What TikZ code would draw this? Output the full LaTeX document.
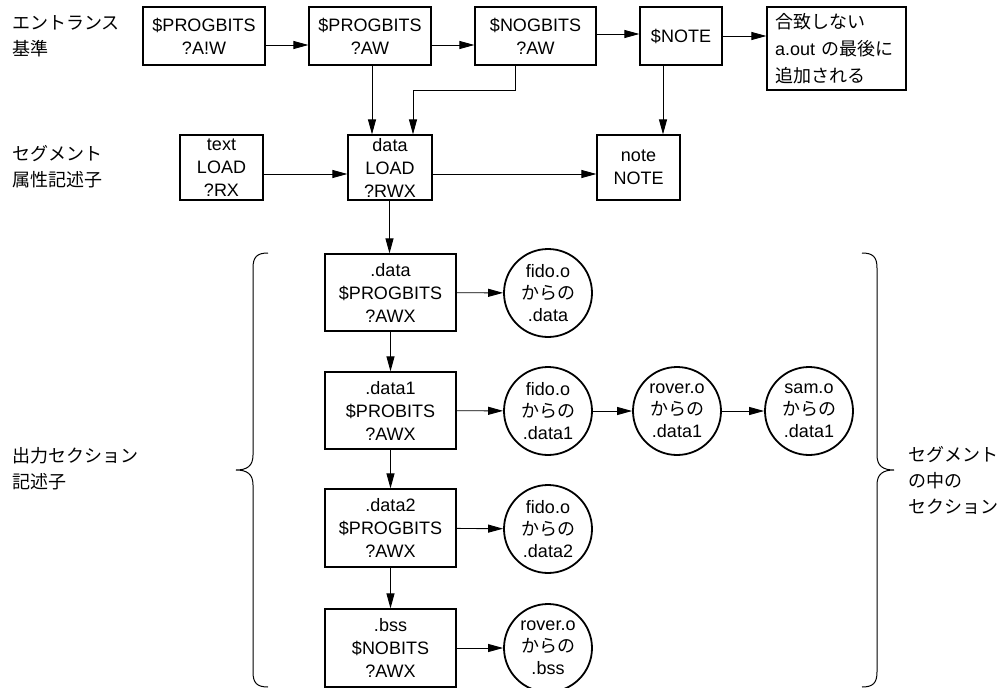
\documentclass[tikz,border=0pt]{standalone}
\usepackage{fontspec}
\setmainfont{Liberation Sans}
\newfontfamily\jpfont{Noto Sans CJK JP}
\newcommand\JP[1]{{\jpfont #1}}
\usetikzlibrary{arrows.meta}
\begin{document}
\begin{tikzpicture}[x=1pt,y=-1pt,
  box/.style={draw, line width=1.2pt, align=center, inner sep=0pt, font=\fontsize{18}{23}\selectfont},
  circ/.style={draw, circle, line width=1.8pt, minimum size=88pt, inner sep=0pt, align=center, font=\fontsize{18}{22}\selectfont},
  lab/.style={anchor=west, align=left, inner sep=0pt, font=\fontsize{18}{26}\selectfont\jpfont},
  arr/.style={-{Triangle[length=15pt,width=8pt]}, line width=0.9pt}]
\useasboundingbox (0,0) rectangle (1005,688);
% labels
\node[lab] (l1) at (12,36) {エントランス\\基準};
\node[lab] (l2) at (12,166.5) {セグメント\\属性記述子};
\node[lab] (l3) at (12,468.5) {出力セクション\\記述子};
\node[lab] (l4) at (908,480) {セグメント\\の中の\\セクション};
% top row
\node[box, minimum width=122, minimum height=58] (b1) at (204,36) {\$PROGBITS\\?A!W};
\node[box, minimum width=122, minimum height=58] (b2) at (370,36) {\$PROGBITS\\?AW};
\node[box, minimum width=121, minimum height=58] (b3) at (535.5,36) {\$NOGBITS\\?AW};
\node[box, minimum width=82, minimum height=58] (b4) at (681,36) {\$NOTE};
\node[box, minimum width=139, minimum height=83, align=left, text width=123, inner xsep=8pt, font=\fontsize{18}{27}\selectfont] (b5) at (836.5,48.5) {\JP{合致しない}\\a.out \JP{の最後に}\\\JP{追加される}};
% second row
\node[box, minimum width=83, minimum height=65] (t) at (221.5,167.5) {text\\LOAD\\?RX};
\node[box, minimum width=84, minimum height=65] (d) at (390,167.5) {data\\LOAD\\?RWX};
\node[box, minimum width=83, minimum height=65] (n) at (638.5,167.5) {note\\NOTE};
% column
\node[box, minimum width=131, minimum height=77] (s1) at (390.5,292.5) {.data\\\$PROGBITS\\?AWX};
\node[box, minimum width=131, minimum height=77] (s2) at (390.5,410.5) {.data1\\\$PROBITS\\?AWX};
\node[box, minimum width=131, minimum height=78] (s3) at (390.5,528) {.data2\\\$PROGBITS\\?AWX};
\node[box, minimum width=131, minimum height=78] (s4) at (390.5,648) {.bss\\\$NOBITS\\?AWX};
% circles
\node[circ] (c1) at (548,293) {fido.o\\\JP{からの}\\.data};
\node[circ] (c2) at (548,411) {fido.o\\\JP{からの}\\.data1};
\node[circ] (c3) at (677,411) {rover.o\\\JP{からの}\\.data1};
\node[circ] (c4) at (809,411) {sam.o\\\JP{からの}\\.data1};
\node[circ] (c5) at (548,529) {fido.o\\\JP{からの}\\.data2};
\node[circ] (c6) at (548,648) {rover.o\\\JP{からの}\\.bss};
% arrows top
\draw[arr] ([yshift=-9pt]b1.east) -- ([yshift=-9pt]b2.west);
\draw[arr] ([yshift=-9pt]b2.east) -- ([yshift=-9pt]b3.west);
\draw[arr] ([yshift=2pt]b3.east) -- ([yshift=2pt]b4.west);
\draw[arr] (b4.east) -- (b4.east -| b5.west);
\draw[arr] ([xshift=2pt]b2.south) -- ([xshift=2pt]b2.south |- d.north);
\draw[arr] ([xshift=-20pt]b3.south) -- ++(0,25) -| ([xshift=23pt]d.north);
\draw[arr] ([xshift=-18pt]b4.south) -- ([xshift=-18pt]b4.south |- n.north);
\draw[arr] ([yshift=-6.5pt]t.east) -- ([yshift=-6.5pt]d.west);
\draw[arr] ([yshift=-6.5pt]d.east) -- ([yshift=-6.5pt]n.west);
\draw[arr] ([xshift=-0.5pt]d.south) -- ([xshift=-0.5pt]d.south |- s1.north);
% column arrows
\draw[arr] (s1) -- (s2);
\draw[arr] (s2) -- (s3);
\draw[arr] (s3) -- (s4);
\draw[arr] (s1) -- (c1);
\draw[arr] (s2) -- (c2);
\draw[arr] (c2) -- (c3);
\draw[arr] (c3) -- (c4);
\draw[arr] (s3) -- (c5);
\draw[arr] (s4) -- (c6);
% braces
\draw[line width=1pt] (268,253) .. controls (257,253) and (253,257) .. (253,268) -- (253,455)
  .. controls (253,466) and (247,470) .. (236,470) .. controls (247,470) and (253,474) .. (253,485)
  -- (253,672) .. controls (253,683) and (257,687) .. (268,687);
\draw[line width=1pt] (862,253) .. controls (873,253) and (877,257) .. (877,268) -- (877,455)
  .. controls (877,466) and (883,470) .. (894,470) .. controls (883,470) and (877,474) .. (877,485)
  -- (877,672) .. controls (877,683) and (873,687) .. (862,687);
\end{tikzpicture}
\end{document}
